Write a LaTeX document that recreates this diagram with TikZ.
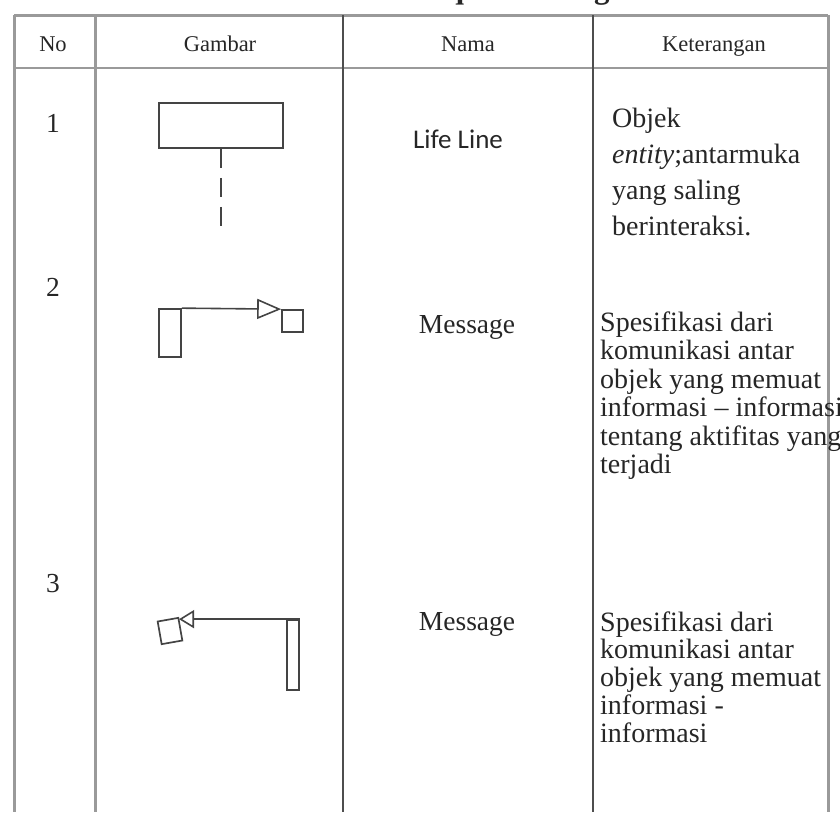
\documentclass[tikz,border=0pt]{standalone}
\usepackage{fontspec}
\setmainfont{Liberation Serif}
\newfontfamily\carlito{Carlito}
\usetikzlibrary{arrows.meta}
\definecolor{rule}{HTML}{9A9A9A}
\definecolor{colrule}{HTML}{4E4E4E}
\definecolor{ink}{HTML}{262626}
\definecolor{shape}{HTML}{444444}
% a left-aligned block of lines whose baseline is the first line's baseline
\newcommand{\textlines}[1]{\begin{tabular}[t]{@{}l@{}}#1\end{tabular}}
\begin{document}
\begin{tikzpicture}[x=1pt,y=-1pt,
  frame/.style={draw=rule,line width=3pt},
  divider/.style={draw=colrule,line width=1.8pt},
  headrule/.style={draw=rule,line width=2pt},
  headtext/.style={font=\fontsize{22.5}{24}\selectfont,text=ink,anchor=base,inner sep=0pt},
  celltext/.style={font=\fontsize{27.5}{28}\selectfont,text=ink,anchor=base,inner sep=0pt},
  desc/.style={text=ink,anchor=base west,inner sep=0pt},
  symbol/.style={draw=shape,line width=1.7pt,fill=white,inner sep=0pt},
  lifeline/.style={draw=shape,line width=1.9pt,dash pattern=on 19pt off 10pt},
  message/.style={draw=shape,line width=1.6pt}
]
\useasboundingbox (0,0) rectangle (840,812);

% table rules
\draw[frame] (14,15) -- (828,15);
\draw[headrule] (14,68) -- (828,68);
\draw[frame] (14,15) -- (14,812);
\draw[frame] (828,15) -- (828,812);
\draw[frame] (95,15) -- (95,812);
\draw[divider] (343,15) -- (343,812);
\draw[divider] (593,15) -- (593,812);

% caption above the table (only its descenders fall inside the page)
\node[font=\fontsize{31}{31}\selectfont\bfseries,anchor=base west,inner sep=0pt,text=ink]
  (title) at (315,-2) {Simbol Sequence Diagram};

% header
\node[headtext] (hno)   at (53,51)  {No};
\node[headtext] (hgam)  at (220,51) {Gambar};
\node[headtext] (hnama) at (468,51) {Nama};
\node[headtext] (hket)  at (714,51) {Keterangan};

% row numbers
\node[celltext] (n1) at (53,132) {1};
\node[celltext] (n2) at (53,296) {2};
\node[celltext] (n3) at (53,592) {3};

% names
\node[celltext,font=\carlito\fontsize{27}{28}\selectfont] (nm1) at (458,148) {Life Line};
\node[celltext] (nm2) at (467,333) {Message};
\node[celltext] (nm3) at (467,630) {Message};

% descriptions
\node[desc,font=\fontsize{28}{36}\selectfont] (d1) at (612,127)
  {\textlines{Objek\\{\itshape entity};antarmuka\\yang saling\\berinteraksi.}};
\node[desc,font=\fontsize{28}{28.5}\selectfont] (d2) at (600,331)
  {\textlines{Spesifikasi dari\\komunikasi antar\\objek yang memuat\\informasi -- informasi\\tentang aktifitas yang\\terjadi}};
\node[desc,font=\fontsize{28}{27.5}\selectfont] (d3) at (600,631)
  {\textlines{Spesifikasi dari\\komunikasi antar\\objek yang memuat\\informasi -\\informasi}};

% row 1: life line
\node[symbol,minimum width=124,minimum height=45] (life) at (221,125.5) {};
\coordinate (lifeend) at (221,229);
\draw[lifeline] (life.south) -- (lifeend);

% row 2: message to the right
\node[symbol,minimum width=22,minimum height=48] (act2) at (170,333) {};
\node[symbol,minimum width=21,minimum height=22] (obj2) at (292.5,321) {};
\draw[message,-{Triangle[open,length=24pt,width=20pt]}] (act2.north east) -- (obj2.north west);

% row 3: message to the left
\node[symbol,minimum width=12,minimum height=70] (act3) at (293,655) {};
\node[symbol,minimum width=21,minimum height=23,rotate=10] (obj3) at (170,631) {};
\draw[message,-{Triangle[open,length=15pt,width=18pt]}] (act3.north east) -- (obj3.north east |- act3.north east);
\end{tikzpicture}
\end{document}
